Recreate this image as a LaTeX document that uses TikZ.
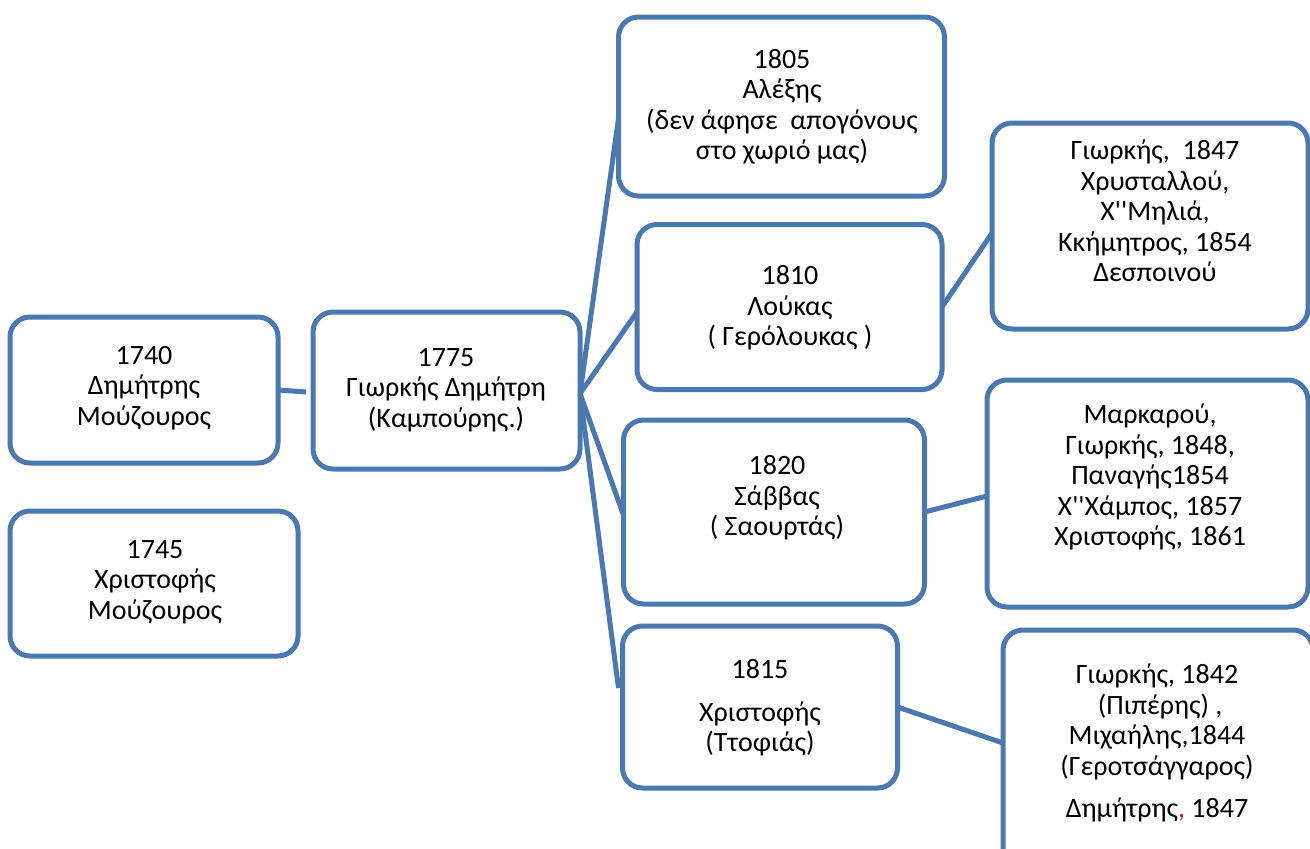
\documentclass[tikz,border=0pt]{standalone}
\usepackage{fontspec}
\newfontfamily\calfont{Carlito}
\definecolor{boxblue}{RGB}{74,120,175}
\definecolor{commared}{RGB}{200,30,30}
\begin{document}
\begin{tikzpicture}[x=1pt,y=-1pt,
  box/.style={draw=boxblue,line width=5pt,rounded corners=20pt,inner sep=0pt,outer sep=0pt,fill=none},
  lbl/.style={align=center,inner sep=0pt,font=\calfont\fontsize{28}{30.5}\selectfont},
  link/.style={draw=boxblue,line width=5pt}]
\clip (0,0) rectangle (1310,849);
\fill[white] (0,0) rectangle (1310,849);
% boxes
\node[box,minimum width=268pt,minimum height=146pt] (b1740) at (144,390) {};
\node[box,minimum width=288pt,minimum height=145pt] (b1745) at (154,583.5) {};
\node[box,minimum width=267pt,minimum height=157pt] (b1775) at (446.5,390.5) {};
\node[box,minimum width=326pt,minimum height=179pt] (b1805) at (781.5,106.5) {};
\node[box,minimum width=305pt,minimum height=165pt] (b1810) at (789.5,307) {};
\node[box,minimum width=301pt,minimum height=184pt] (b1820) at (774,512) {};
\node[box,minimum width=275pt,minimum height=162pt] (b1815) at (760,707) {};
\node[box,minimum width=316pt,minimum height=206pt] (bA) at (1150,226) {};
\node[box,minimum width=321pt,minimum height=227pt] (bB) at (1147.5,493.5) {};
\node[box,minimum width=310pt,minimum height=240pt] (bC) at (1158,750) {};
% texts
\node[lbl] (t1740) at (144,388) {1740\\Δημήτρης\\Μούζουρος};
\node[lbl] (t1745) at (155,582) {1745\\Χριστοφής\\Μούζουρος};
\node[lbl] (t1775) at (446,390) {1775\\Γιωρκής Δημήτρη\\(Καμπούρης.)};
\node[lbl] (t1805) at (782,107) {1805\\Αλέξης\\(δεν άφησε\ \ απογόνους\\στο χωριό μας)};
\node[lbl] (t1810) at (790,308) {1810\\Λούκας\\( Γερόλουκας )};
\node[lbl] (t1820) at (777,498) {1820\\Σάββας\\( Σαουρτάς)};
\node[lbl] (t1815) at (760,708) {1815\\[12pt]Χριστοφής\\(Ττοφιάς)};
\node[lbl] (tA) at (1155,211) {Γιωρκής,\ \ 1847\\Χρυσταλλού,\\Χ''Μηλιά,\\Κκήμητρος, 1854\\Δεσποινού};
\node[lbl] (tB) at (1150,477) {Μαρκαρού,\\Γιωρκής, 1848,\\Παναγής1854\\Χ''Χάμπος, 1857\\Χριστοφής, 1861};
\node[lbl] (tC) at (1157,743) {Γιωρκής, 1842\\\ (Πιπέρης) ,\\Μιχαήλης,1844\\(Γεροτσάγγαρος)\\[12pt]Δημήτρης{\color{commared},} 1847};
% connectors
\coordinate (fan) at ([yshift=-3pt]b1775.east);
\draw[link] (b1740.east) -- ([xshift=-7pt,yshift=-1.5pt]b1775.west);
\draw[link] (fan) -- ([yshift=-12pt]b1805.west);
\draw[link] (fan) -- ([yshift=-5pt]b1810.west);
\draw[link] (fan) -- ([yshift=-3pt]b1820.west);
\draw[link] (fan) -- ([xshift=-4pt,yshift=19pt]b1815.west);
\draw[link] (b1810.east) -- ([yshift=-7pt]bA.west);
\draw[link] (b1820.east) -- ([yshift=-2.5pt]bB.west);
\draw[link] (b1815.east) -- ([yshift=7pt]bC.west);
\end{tikzpicture}
\end{document}
